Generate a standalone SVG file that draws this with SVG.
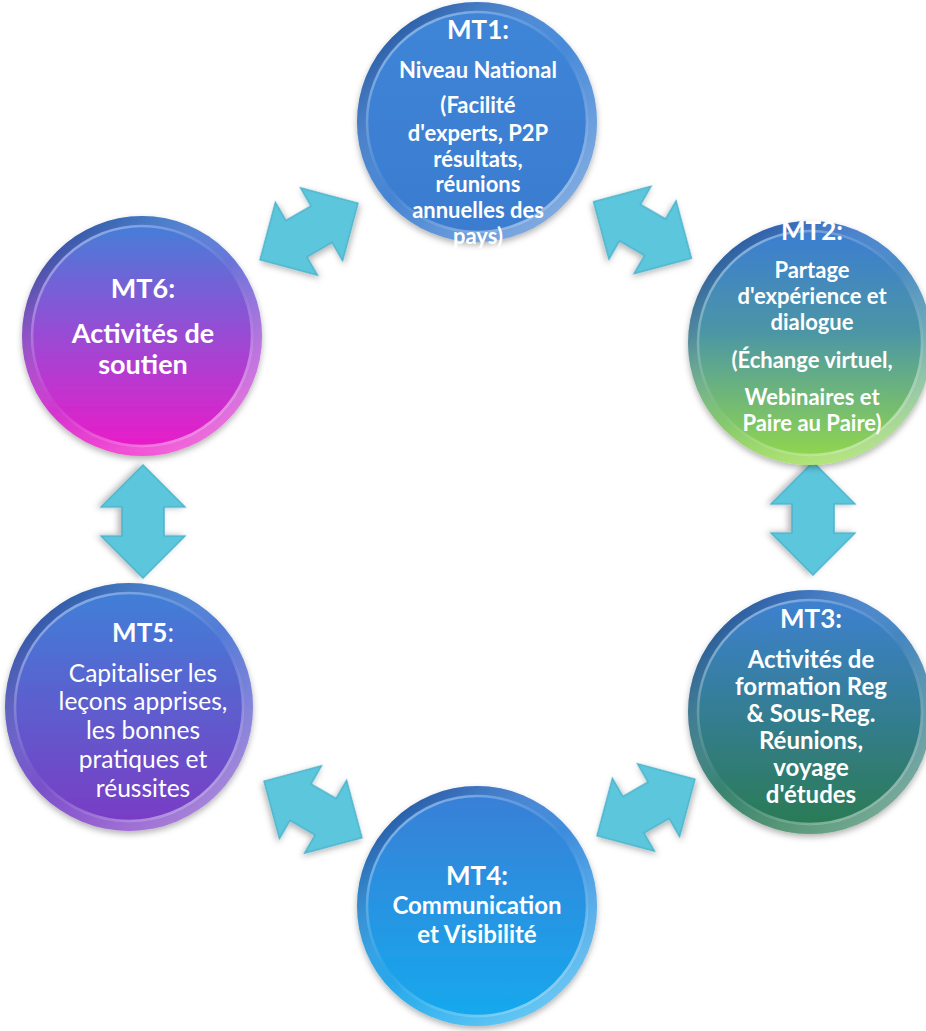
<svg xmlns="http://www.w3.org/2000/svg" width="926" height="1031" viewBox="0 0 926 1031">
<style>
.t{font-family:Lato,"Liberation Sans",sans-serif;font-weight:bold;fill:#fff;text-anchor:middle;font-size:22px}
.h{font-size:26px}
.m{font-size:24px}
.n{font-weight:normal;font-size:24.5px}
.big{font-size:27px}
.arrow{fill:#5cc6dc;stroke:#4db3cb;stroke-width:1.5;stroke-linejoin:miter}
.ring{fill:none;stroke:url(#rim);stroke-width:9}
.hl{fill:none;stroke:url(#rim2);stroke-width:2.5}
</style>
<defs>
<linearGradient id="g1" x1="0" y1="0" x2="0" y2="1"><stop offset="0" stop-color="#3f85d8"/><stop offset="1" stop-color="#3a7ccf"/></linearGradient>
<linearGradient id="g2" x1="0" y1="0" x2="0" y2="1"><stop offset="0" stop-color="#3a7bd6"/><stop offset="0.45" stop-color="#4b95a6"/><stop offset="1" stop-color="#95da48"/></linearGradient>
<linearGradient id="g3" x1="0" y1="0" x2="0" y2="1"><stop offset="0" stop-color="#3e81d6"/><stop offset="1" stop-color="#2a7a50"/></linearGradient>
<linearGradient id="g4" x1="0" y1="0" x2="0" y2="1"><stop offset="0" stop-color="#3a7ed6"/><stop offset="1" stop-color="#15aaee"/></linearGradient>
<linearGradient id="g5" x1="0" y1="0" x2="0" y2="1"><stop offset="0" stop-color="#3e82d8"/><stop offset="1" stop-color="#7c3ac4"/></linearGradient>
<linearGradient id="g6" x1="0" y1="0" x2="0" y2="1"><stop offset="0" stop-color="#3e82d8"/><stop offset="0.5" stop-color="#9a4ad4"/><stop offset="1" stop-color="#f018c8"/></linearGradient>
<linearGradient id="rim" x1="0.15" y1="0.1" x2="0.85" y2="0.9"><stop offset="0" stop-color="#0a1a50" stop-opacity="0.35"/><stop offset="0.5" stop-color="#ffffff" stop-opacity="0.05"/><stop offset="1" stop-color="#ffffff" stop-opacity="0.35"/></linearGradient>
<linearGradient id="rim2" x1="0.2" y1="0.1" x2="0.8" y2="0.9"><stop offset="0" stop-color="#ffffff" stop-opacity="0.35"/><stop offset="0.5" stop-color="#ffffff" stop-opacity="0.05"/><stop offset="1" stop-color="#ffffff" stop-opacity="0.45"/></linearGradient>
<filter id="sh" x="-20%" y="-20%" width="140%" height="140%"><feDropShadow dx="0" dy="3" stdDeviation="3" flood-color="#000" flood-opacity="0.3"/></filter>
<path id="dbl" d="M56.5 0 L14.5 -42 L14.5 -21 L-14.5 -21 L-14.5 -42 L-56.5 0 L-14.5 42 L-14.5 21 L14.5 21 L14.5 42 Z"/>
</defs>

<g id="connectors">
<use href="#dbl" class="arrow" filter="url(#sh)" transform="translate(309,231.5) rotate(-30)"/>
<use href="#dbl" class="arrow" filter="url(#sh)" transform="translate(642.5,230) rotate(30)"/>
<use href="#dbl" class="arrow" filter="url(#sh)" transform="translate(813,518.5) rotate(90)"/>
<use href="#dbl" class="arrow" filter="url(#sh)" transform="translate(646,807.5) rotate(-30)"/>
<use href="#dbl" class="arrow" filter="url(#sh)" transform="translate(313,809.5) rotate(30)"/>
<use href="#dbl" class="arrow" filter="url(#sh)" transform="translate(143,521.5) rotate(90)"/>
</g>

<g id="mt1">
<circle cx="477" cy="122" r="120" fill="url(#g1)" filter="url(#sh)"/>
<circle cx="477" cy="122" r="115.5" class="ring"/>
<circle cx="477" cy="122" r="110" class="hl"/>
<text class="t h" x="478" y="39">MT1:</text>
<text class="t" x="478" y="78">Niveau National</text>
<text class="t" x="478" y="113">(Facilité</text>
<text class="t" x="478" y="141">d'experts, P2P</text>
<text class="t" x="478" y="167">résultats,</text>
<text class="t" x="478" y="192">réunions</text>
<text class="t" x="478" y="218">annuelles des</text>
<text class="t" x="478" y="244">pays)</text>
</g>

<g id="mt2">
<circle cx="810" cy="343" r="122" fill="url(#g2)" filter="url(#sh)"/>
<circle cx="810" cy="343" r="117.5" class="ring"/>
<circle cx="810" cy="343" r="112" class="hl"/>
<text class="t h" x="812" y="240">MT2:</text>
<text class="t" x="812" y="278">Partage</text>
<text class="t" x="812" y="304">d'expérience et</text>
<text class="t" x="812" y="330">dialogue</text>
<text class="t" x="812" y="368">(Échange virtuel,</text>
<text class="t" x="812" y="405">Webinaires et</text>
<text class="t" x="812" y="431">Paire au Paire)</text>
</g>

<g id="mt3">
<circle cx="810" cy="712" r="122" fill="url(#g3)" filter="url(#sh)"/>
<circle cx="810" cy="712" r="117.5" class="ring"/>
<circle cx="810" cy="712" r="112" class="hl"/>
<text class="t h" x="811" y="628">MT3:</text>
<text class="t m" x="811" y="668">Activités de</text>
<text class="t m" x="811" y="695">formation Reg</text>
<text class="t m" x="811" y="722">&amp; Sous-Reg.</text>
<text class="t m" x="811" y="749">Réunions,</text>
<text class="t m" x="811" y="776">voyage</text>
<text class="t m" x="811" y="803">d'études</text>
</g>

<g id="mt4">
<circle cx="477" cy="906" r="120" fill="url(#g4)" filter="url(#sh)"/>
<circle cx="477" cy="906" r="115.5" class="ring"/>
<circle cx="477" cy="906" r="110" class="hl"/>
<text class="t h" x="477" y="885">MT4:</text>
<text class="t m" x="477" y="914">Communication</text>
<text class="t m" x="477" y="943">et Visibilité</text>
</g>

<g id="mt5">
<circle cx="129" cy="707" r="124" fill="url(#g5)" filter="url(#sh)"/>
<circle cx="129" cy="707" r="119.5" class="ring"/>
<circle cx="129" cy="707" r="114" class="hl"/>
<text class="t h" x="143" y="642">MT5<tspan font-weight="normal">:</tspan></text>
<text class="t n" x="143" y="682">Capitaliser les</text>
<text class="t n" x="143" y="710">leçons apprises,</text>
<text class="t n" x="143" y="739">les bonnes</text>
<text class="t n" x="143" y="768">pratiques et</text>
<text class="t n" x="143" y="797">réussites</text>
</g>

<g id="mt6">
<circle cx="142" cy="336" r="120" fill="url(#g6)" filter="url(#sh)"/>
<circle cx="142" cy="336" r="115.5" class="ring"/>
<circle cx="142" cy="336" r="110" class="hl"/>
<text class="t big" x="143" y="298">MT6:</text>
<text class="t big" x="143" y="343">Activités de</text>
<text class="t big" x="143" y="374">soutien</text>
</g>
</svg>
